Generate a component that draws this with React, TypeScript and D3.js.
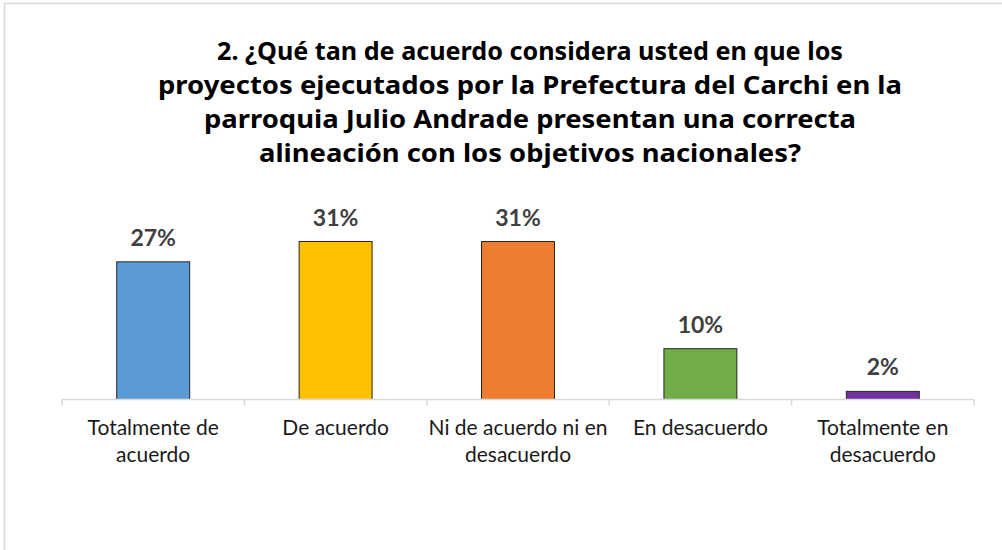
import React from "react";
import * as d3 from "d3";

const categories: string[][] = [
  ["Totalmente de", "acuerdo"],
  ["De acuerdo"],
  ["Ni de acuerdo ni en", "desacuerdo"],
  ["En desacuerdo"],
  ["Totalmente en", "desacuerdo"],
];
const values: number[] = [27.1, 31.1, 31.1, 10.0, 1.6];
const colors: string[] = ["#5B9BD5", "#FFC000", "#ED7D31", "#70AD47", "#7030A0"];
const titleLines: string[] = [
  "2. ¿Qué tan de acuerdo considera usted en que los",
  "proyectos ejecutados por la Prefectura del Carchi en la",
  "parroquia Julio Andrade presentan una correcta",
  "alineación con los objetivos nacionales?",
];
const titleWidths: number[] = [626, 744, 652, 542];

export default function App() {
  const W = 1002, H = 550;
  const x0 = 62, x1 = 974, baseY = 399.5;
  const x = d3.scaleBand<number>().domain(d3.range(values.length)).range([x0, x1]).paddingInner(0.6).paddingOuter(0.3);
  const y = d3.scaleLinear().domain([0, 35]).range([baseY, baseY - 35 * 5.08]);
  const step = (x1 - x0) / values.length;
  const ticks = d3.range(values.length + 1).map((i) => x0 + i * step);
  return (
    <svg width={W} height={H} style={{ position: "absolute", left: 0, top: 0, background: "#fff" }}>
      <rect x={0} y={0} width={W} height={H} fill="#fff" />
      <rect x={4.5} y={3.5} width={W + 10} height={H + 10} fill="#fff" stroke="#d9d9d9" strokeWidth={1.5} />
      {titleLines.map((t, i) => (
        <text key={i} x={530} y={60 + i * 34} textAnchor="middle" fontFamily="'Noto Sans', 'DejaVu Sans', sans-serif" fontWeight="bold" fontSize={25} fill="#000" textLength={titleWidths[i]} lengthAdjust="spacingAndGlyphs">
          {t}
        </text>
      ))}
      {values.map((v, i) => (
        <g key={i}>
          <rect x={x(i)!} y={y(v)} width={x.bandwidth()} height={baseY - y(v)} fill={colors[i]} stroke="#262626" strokeWidth={1} />
          <text x={x(i)! + x.bandwidth() / 2} y={y(v) - 16} textAnchor="middle" fontFamily="Lato, 'Open Sans', sans-serif" fontWeight="bold" fontSize={23} fill="#404040">
            {Math.round(v)}%
          </text>
        </g>
      ))}
      <line x1={x0} x2={x1} y1={baseY} y2={baseY} stroke="#d9d9d9" strokeWidth={1.5} />
      {ticks.map((t, i) => (
        <line key={i} x1={t} x2={t} y1={baseY} y2={baseY + 6} stroke="#d9d9d9" strokeWidth={1.5} />
      ))}
      {categories.map((lines, i) => (
        <text key={i} x={x(i)! + x.bandwidth() / 2} y={435} textAnchor="middle" fontFamily="Lato, 'Open Sans', sans-serif" fontSize={21} fill="#1a1a1a">
          {lines.map((l, j) => (
            <tspan key={j} x={x(i)! + x.bandwidth() / 2} dy={j === 0 ? 0 : 27}>{l}</tspan>
          ))}
        </text>
      ))}
    </svg>
  );
}
